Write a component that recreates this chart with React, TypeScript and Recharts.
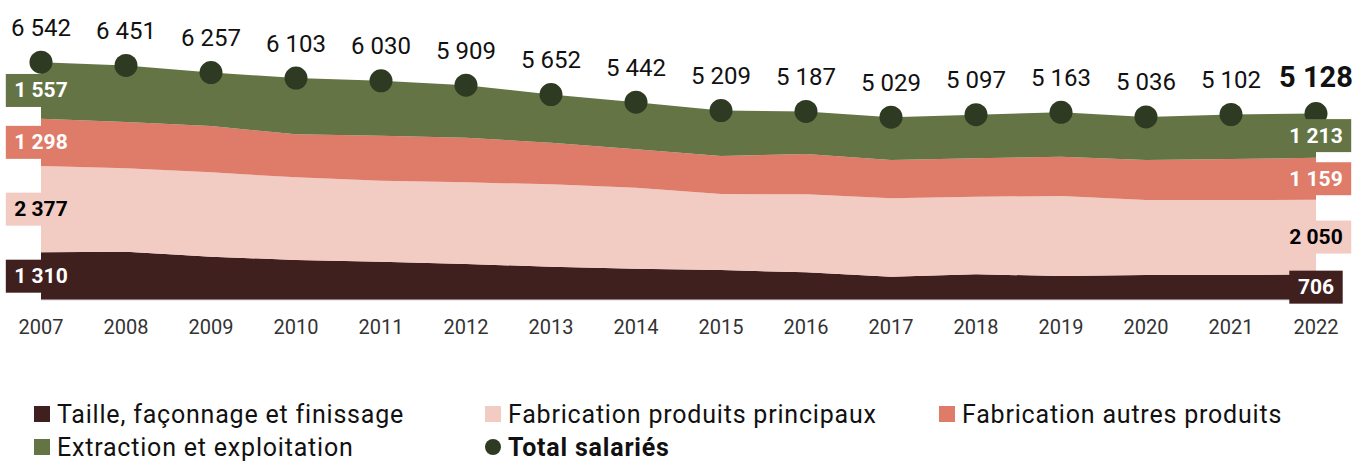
import React from 'react';
import { ComposedChart, Area, Line, XAxis, YAxis } from 'recharts';

// Données (salariés par activité)
const years = [2007, 2008, 2009, 2010, 2011, 2012, 2013, 2014, 2015, 2016, 2017, 2018, 2019, 2020, 2021, 2022];
const taille = [1310, 1328, 1192, 1100, 1054, 990, 917, 862, 825, 761, 642, 706, 660, 688, 688, 706];
const principaux = [2377, 2294, 2319, 2273, 2228, 2246, 2264, 2228, 2090, 2145, 2154, 2135, 2200, 2062, 2062, 2050];
const autres = [1298, 1273, 1274, 1183, 1237, 1228, 1146, 1053, 1045, 1109, 1054, 1055, 1082, 1100, 1127, 1159];
const extraction = [1557, 1556, 1472, 1547, 1511, 1445, 1325, 1299, 1249, 1172, 1179, 1201, 1221, 1186, 1225, 1213];
const totals = [6542, 6451, 6257, 6103, 6030, 5909, 5652, 5442, 5209, 5187, 5029, 5097, 5163, 5036, 5102, 5128];

const colors = {
    taille: '#3f201f',
    principaux: '#f2cbc2',
    autres: '#df7c69',
    extraction: '#647445',
    total: '#2e3a21',
};

const FONT = 'Roboto, sans-serif';
const last = years.length - 1;

const fmt = (v: number) => String(v).replace(/\B(?=(\d{3})+(?!\d))/g, '\u00a0');

const data = years.map((year, i) => ({
    year,
    taille: taille[i],
    principaux: principaux[i],
    autres: autres[i],
    extraction: extraction[i],
    total: totals[i],
    // milieux des bandes empilées, pour placer les étiquettes
    midTaille: taille[i] / 2,
    midPrincipaux: taille[i] + principaux[i] / 2,
    midAutres: taille[i] + principaux[i] + autres[i] / 2,
    midExtraction: taille[i] + principaux[i] + autres[i] + extraction[i] / 2,
}));

// Étiquette en boîte colorée, seulement au premier et au dernier point
const bandLabel = (values: number[], fill: string, textColor: string) => (props: any) => {
    const { cx, cy, index } = props;
    if (index !== 0 && index !== last) return <g key={`e-${index}`} />;
    const text = fmt(values[index]);
    const digits = text.replace(/\D/g, '').length;
    const spaces = text.length - digits;
    const w = digits * 11.8 + spaces * 5.2 + 18;
    return (
        <g key={`b-${index}`}>
            <rect x={cx - w / 2} y={cy - 16.5} width={w} height={33} fill={fill} />
            <text
                x={cx}
                y={cy}
                textAnchor="middle"
                dominantBaseline="central"
                fill={textColor}
                fontWeight={700}
                fontSize={21}
                fontFamily={FONT}
            >
                {text}
            </text>
        </g>
    );
};

// Point du total + valeur au-dessus
const totalDot = (props: any) => {
    const { cx, cy, index } = props;
    const isLast = index === last;
    return (
        <g key={`t-${index}`}>
            <circle cx={cx} cy={cy} r={11.5} fill={colors.total} />
            <text
                x={cx}
                y={cy - (isLast ? 37 : 34.5)}
                textAnchor="middle"
                dominantBaseline="central"
                fontSize={isLast ? 29 : 24}
                fontWeight={isLast ? 700 : 400}
                fontFamily={FONT}
                fill="#111"
            >
                {fmt(totals[index])}
            </text>
        </g>
    );
};

const legendItems = [
    { label: 'Taille, façonnage et finissage', color: colors.taille, x: 34, row: 0 },
    { label: 'Fabrication produits principaux', color: colors.principaux, x: 485, row: 0 },
    { label: 'Fabrication autres produits', color: colors.autres, x: 939, row: 0 },
    { label: 'Extraction et exploitation', color: colors.extraction, x: 34, row: 1 },
    { label: 'Total salariés', color: colors.total, x: 485, row: 1, dot: true },
];

const App: React.FC = () => {
    return (
        <div style={{ position: 'absolute', left: 0, top: 0, width: 1358, height: 461, background: '#fff', fontFamily: FONT }}>
            <ComposedChart
                width={1358}
                height={345}
                data={data}
                margin={{ top: 45.5, right: 42, bottom: 0, left: 41 }}
            >
                <XAxis
                    dataKey="year"
                    type="number"
                    domain={[2007, 2022]}
                    ticks={years}
                    tickFormatter={(v) => String(v)}
                    height={45}
                    tickLine={false}
                    tickMargin={14}
                    axisLine={{ stroke: '#d9d9d9' }}
                    tick={{ fontSize: 20, fill: '#333', fontFamily: FONT }}
                />
                <YAxis hide domain={[0, 7000]} />
                <Area type="linear" dataKey="taille" stackId="1" stroke="none" fill={colors.taille} fillOpacity={1} isAnimationActive={false} />
                <Area type="linear" dataKey="principaux" stackId="1" stroke="none" fill={colors.principaux} fillOpacity={1} isAnimationActive={false} />
                <Area type="linear" dataKey="autres" stackId="1" stroke="none" fill={colors.autres} fillOpacity={1} isAnimationActive={false} />
                <Area type="linear" dataKey="extraction" stackId="1" stroke="none" fill={colors.extraction} fillOpacity={1} isAnimationActive={false} />
                <Line dataKey="total" stroke="none" dot={totalDot} activeDot={false} isAnimationActive={false} />
                <Line dataKey="midTaille" stroke="none" dot={bandLabel(taille, colors.taille, '#fff')} activeDot={false} isAnimationActive={false} />
                <Line dataKey="midPrincipaux" stroke="none" dot={bandLabel(principaux, colors.principaux, '#000')} activeDot={false} isAnimationActive={false} />
                <Line dataKey="midAutres" stroke="none" dot={bandLabel(autres, colors.autres, '#fff')} activeDot={false} isAnimationActive={false} />
                <Line dataKey="midExtraction" stroke="none" dot={bandLabel(extraction, colors.extraction, '#fff')} activeDot={false} isAnimationActive={false} />
            </ComposedChart>

            {/* Légende */}
            {legendItems.map((item) => (
                <div
                    key={item.label}
                    style={{
                        position: 'absolute',
                        left: item.x,
                        top: item.row === 0 ? 399 : 432,
                        height: 30,
                        display: 'flex',
                        alignItems: 'center',
                        whiteSpace: 'nowrap',
                        fontSize: 25,
                        letterSpacing: 0.8,
                        color: '#111',
                        fontWeight: item.dot ? 700 : 400,
                    }}
                >
                    <span
                        style={{
                            display: 'inline-block',
                            width: 16,
                            height: 16,
                            background: item.color,
                            borderRadius: item.dot ? '50%' : 0,
                            marginRight: 7,
                        }}
                    />
                    {item.label}
                </div>
            ))}
        </div>
    );
};

export default App;
